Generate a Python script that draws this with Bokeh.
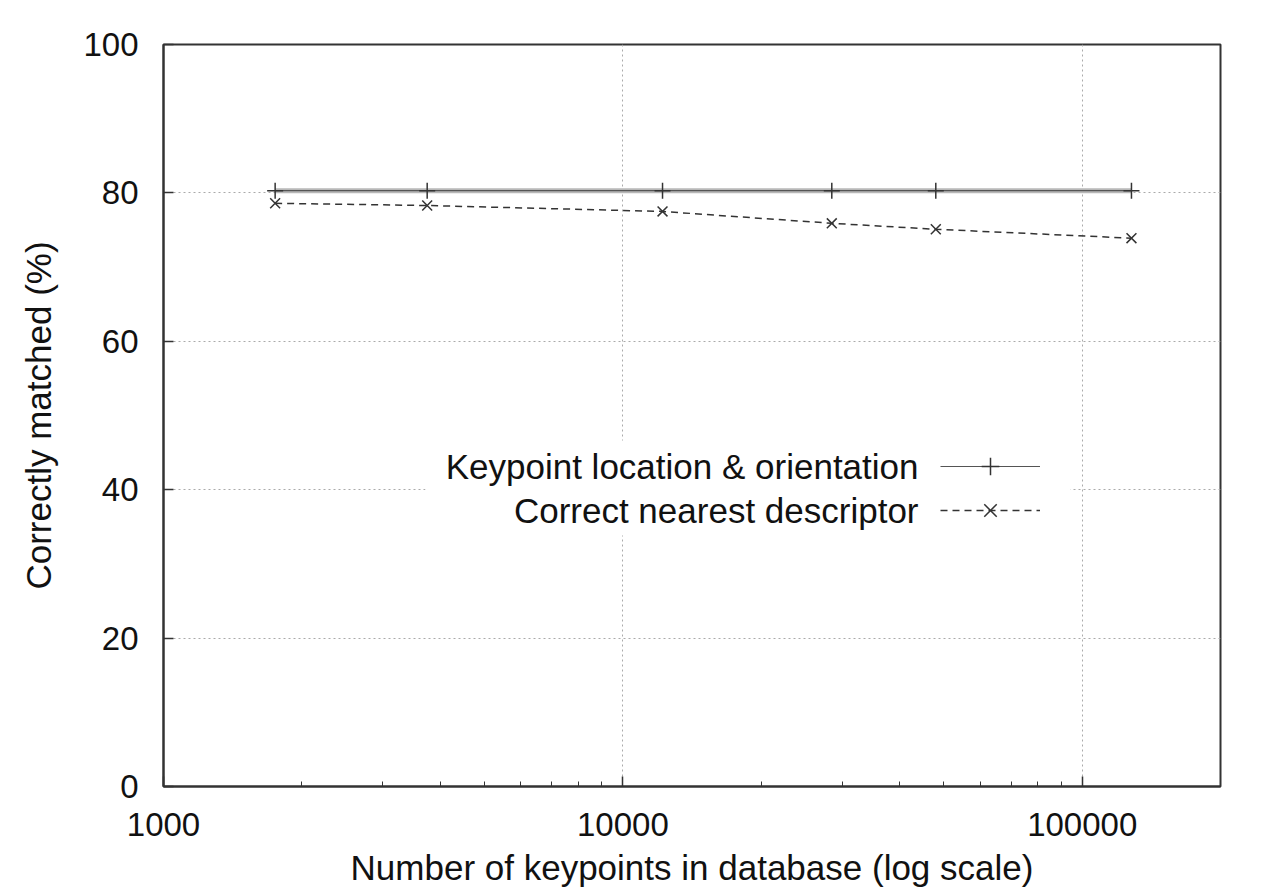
from bokeh.plotting import figure
from bokeh.models import (FixedTicker, NumeralTickFormatter, Legend, LegendItem,
                          Label, BoxAnnotation, LogTicker)
from bokeh.embed import file_html
from bokeh.resources import INLINE

# ---- data ----
keypoints = [1750, 3750, 12200, 28500, 48000, 128000]
loc_orient = [80.3, 80.3, 80.3, 80.3, 80.3, 80.3]
nearest_desc = [78.6, 78.3, 77.5, 75.9, 75.1, 73.9]
series_names = ["Keypoint location & orientation", "Correct nearest descriptor"]
y_ticks = [0, 20, 40, 60, 80, 100]
x_ticks = [1000, 10000, 100000]
x_label = "Number of keypoints in database (log scale)"
y_label = "Correctly matched (%)"

FONT = "Liberation Sans"

p = figure(width=1254, height=889, x_axis_type="log",
           x_range=(1000, 200000), y_range=(0, 100),
           output_backend="svg", toolbar_location=None,
           min_border_left=163, min_border_right=34,
           min_border_top=44, min_border_bottom=97)
p.background_fill_color = "white"
p.border_fill_color = "white"
p.outline_line_color = "#333333"
p.outline_line_width = 2

# axes
p.xaxis.ticker = LogTicker(desired_num_ticks=3, num_minor_ticks=10)
p.xaxis.formatter = NumeralTickFormatter(format="0")
p.yaxis.ticker = FixedTicker(ticks=y_ticks)
for ax in (p.xaxis[0], p.yaxis[0]):
    ax.axis_line_color = "#333333"
    ax.axis_line_width = 2
    ax.major_tick_in = 10
    ax.major_tick_out = 0
    ax.minor_tick_in = 5
    ax.minor_tick_out = 0
    ax.major_tick_line_color = "#333333"
    ax.major_tick_line_width = 1.5
    ax.minor_tick_line_color = "#333333"
    ax.major_label_text_font = FONT
    ax.major_label_text_font_size = "33px"
    ax.major_label_text_color = "#111111"
    ax.axis_label_text_font = FONT
    ax.axis_label_text_font_size = "35px"
    ax.axis_label_text_font_style = "normal"
    ax.axis_label_text_color = "#111111"
p.yaxis.minor_tick_line_color = None
p.xaxis.axis_label = x_label
p.yaxis.axis_label = y_label
p.xaxis.major_label_standoff = 26
p.yaxis.major_label_standoff = 25
p.xaxis.axis_label_standoff = 9
p.yaxis.axis_label_standoff = 22

# grid
p.xgrid.ticker = FixedTicker(ticks=x_ticks)
p.ygrid.ticker = FixedTicker(ticks=y_ticks)
for g in (p.xgrid[0], p.ygrid[0]):
    g.grid_line_color = "#aaaaaa"
    g.grid_line_dash = "2 3"
    g.grid_line_width = 1

# series 1
p.line(keypoints, loc_orient, line_color="#b8b8b8", line_width=5)
l1 = p.line(keypoints, loc_orient, line_color="#555555", line_width=1.2)
m1 = p.scatter(keypoints, loc_orient, marker="cross", size=16,
               line_color="#333333", line_width=1.5)

# series 2
l2 = p.line(keypoints, nearest_desc, line_color="#333333", line_width=1.5,
            line_dash="7 5")
m2 = p.scatter(keypoints, nearest_desc, marker="x", size=14,
               line_color="#333333", line_width=1.5)

# legend box (white background behind the legend)
box = BoxAnnotation(left=262, right=907, bottom=251, top=346,
                    left_units="screen", right_units="screen",
                    bottom_units="screen", top_units="screen",
                    fill_color="white", fill_alpha=1, line_alpha=0)
p.add_layout(box)

legend = Legend(items=[LegendItem(label=" ", renderers=[l1, m1]),
                       LegendItem(label=" ", renderers=[l2, m2])],
                location=(777, 254), glyph_width=100, glyph_height=44,
                label_text_font_size="1px", label_standoff=0, label_width=0,
                label_height=1, spacing=0, padding=0, margin=0,
                background_fill_alpha=0, border_line_alpha=0)
p.add_layout(legend)

for name, yy in zip(series_names, [320, 276]):
    p.add_layout(Label(x=755, y=yy, x_units="screen", y_units="screen",
                       text=name, text_align="right", text_baseline="middle",
                       text_font=FONT, text_font_size="35px",
                       text_color="#111111"))

open("out.html", "w").write(file_html(p, INLINE))
